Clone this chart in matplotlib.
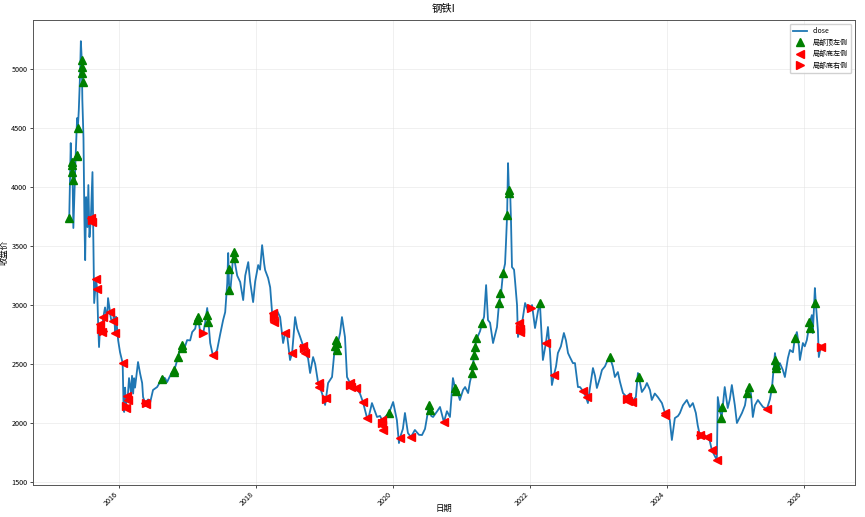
import matplotlib
matplotlib.use('Agg')
import matplotlib.pyplot as plt
import matplotlib.dates as mdates
import pandas as pd

plt.rcParams['font.family'] = ['Noto Sans CJK SC', 'DejaVu Sans']
plt.rcParams['axes.unicode_minus'] = False

# close price
dates = [
    '2015-04-10', '2015-04-18', '2015-04-20', '2015-04-26', '2015-04-28', '2015-05-02', '2015-05-07', '2015-05-14',
    '2015-05-22', '2015-05-26', '2015-05-31', '2015-06-07', '2015-06-11', '2015-06-16', '2015-06-19', '2015-06-25',
    '2015-06-30', '2015-07-04', '2015-07-09', '2015-07-16', '2015-07-21', '2015-07-27', '2015-08-03', '2015-08-12',
    '2015-08-21', '2015-08-31', '2015-09-06', '2015-09-11', '2015-09-16', '2015-09-22', '2015-10-01', '2015-10-09',
    '2015-10-18', '2015-10-29', '2015-11-03', '2015-11-14', '2015-11-19', '2015-12-01', '2015-12-05', '2015-12-11',
    '2015-12-16', '2015-12-27',
    '2016-01-06', '2016-01-20', '2016-01-25', '2016-01-28', '2016-02-02', '2016-02-07', '2016-02-10', '2016-02-15',
    '2016-02-23', '2016-03-05', '2016-03-10', '2016-03-16', '2016-03-21', '2016-03-26', '2016-04-11', '2016-04-22',
    '2016-05-03', '2016-05-08', '2016-05-19', '2016-06-04', '2016-06-14', '2016-06-30', '2016-07-22', '2016-08-07',
    '2016-08-17', '2016-09-02', '2016-09-13', '2016-09-29', '2016-10-10', '2016-10-20', '2016-10-31', '2016-11-11',
    '2016-11-21', '2016-12-02', '2016-12-18', '2016-12-29',
    '2017-01-14', '2017-01-25', '2017-02-10', '2017-02-21', '2017-03-03', '2017-03-09', '2017-03-25', '2017-04-04',
    '2017-04-15', '2017-04-20', '2017-05-01', '2017-05-17', '2017-05-28', '2017-06-07', '2017-06-23', '2017-07-09',
    '2017-07-20', '2017-07-31', '2017-08-05', '2017-08-10', '2017-08-16', '2017-08-26', '2017-09-01', '2017-09-11',
    '2017-09-22', '2017-10-08', '2017-10-24', '2017-11-04', '2017-11-20', '2017-11-30', '2017-12-16', '2017-12-27',
    '2018-01-12', '2018-01-22', '2018-02-02', '2018-02-13', '2018-02-18', '2018-03-06', '2018-03-17', '2018-03-27',
    '2018-04-02', '2018-04-12', '2018-04-23', '2018-05-09', '2018-05-25', '2018-06-05', '2018-06-15', '2018-07-01',
    '2018-07-12', '2018-07-28', '2018-08-08', '2018-08-24', '2018-09-09', '2018-09-19', '2018-10-05', '2018-10-16',
    '2018-11-01', '2018-11-12', '2018-11-28', '2018-12-03', '2018-12-19',
    '2019-01-04', '2019-01-09', '2019-01-20', '2019-02-10', '2019-02-26', '2019-03-09', '2019-03-25', '2019-04-04',
    '2019-04-20', '2019-05-01', '2019-05-17', '2019-06-02', '2019-06-18', '2019-07-09', '2019-07-25', '2019-08-16',
    '2019-08-26', '2019-09-11', '2019-09-27', '2019-10-08', '2019-10-24', '2019-11-04', '2019-11-20', '2019-12-11',
    '2020-01-02', '2020-01-22', '2020-02-02', '2020-02-07', '2020-02-23', '2020-03-05', '2020-03-21', '2020-04-06',
    '2020-04-27', '2020-05-19', '2020-06-04', '2020-06-20', '2020-07-01', '2020-07-12', '2020-07-23', '2020-08-02',
    '2020-08-24', '2020-09-08', '2020-09-29', '2020-10-15', '2020-10-31', '2020-11-16', '2020-11-27', '2020-12-13',
    '2020-12-23',
    '2021-01-09', '2021-01-20', '2021-02-05', '2021-02-15', '2021-02-26', '2021-03-14', '2021-03-25', '2021-04-10',
    '2021-04-20', '2021-05-01', '2021-05-12', '2021-05-22', '2021-06-02', '2021-06-18', '2021-06-29', '2021-07-09',
    '2021-07-20', '2021-07-31', '2021-08-10', '2021-08-21', '2021-08-26', '2021-09-01', '2021-09-06', '2021-09-11',
    '2021-09-17', '2021-09-22', '2021-09-27', '2021-10-08', '2021-10-13', '2021-10-24', '2021-10-29', '2021-11-09',
    '2021-11-20', '2021-12-06', '2021-12-22',
    '2022-01-04', '2022-01-12', '2022-01-28', '2022-02-13', '2022-02-23', '2022-03-11', '2022-03-27', '2022-04-07',
    '2022-04-18', '2022-04-28', '2022-05-09', '2022-05-20', '2022-05-30', '2022-06-15', '2022-07-01', '2022-07-12',
    '2022-07-23', '2022-08-02', '2022-08-18', '2022-08-29', '2022-09-14', '2022-09-25', '2022-10-11', '2022-10-27',
    '2022-11-06', '2022-11-17', '2022-12-03', '2022-12-14', '2022-12-24',
    '2023-01-09', '2023-01-20', '2023-02-05', '2023-02-15', '2023-03-03', '2023-03-19', '2023-03-30', '2023-04-15',
    '2023-04-26', '2023-05-12', '2023-06-02', '2023-06-18', '2023-06-29', '2023-07-20', '2023-07-31', '2023-08-05',
    '2023-08-21', '2023-09-06', '2023-09-17', '2023-10-03', '2023-10-13', '2023-10-29', '2023-11-14', '2023-12-06',
    '2023-12-22',
    '2024-01-06', '2024-01-17', '2024-01-28', '2024-02-13', '2024-03-01', '2024-03-11', '2024-03-27', '2024-04-17',
    '2024-05-03', '2024-05-19', '2024-06-04', '2024-06-14', '2024-06-25', '2024-07-16', '2024-08-01', '2024-08-17',
    '2024-08-28', '2024-09-13', '2024-09-24', '2024-09-29', '2024-10-10', '2024-10-20', '2024-11-05', '2024-11-21',
    '2024-12-02', '2024-12-13', '2024-12-29',
    '2025-01-09', '2025-01-25', '2025-02-05', '2025-02-21', '2025-03-03', '2025-03-14', '2025-03-25', '2025-04-04',
    '2025-04-15', '2025-05-01', '2025-05-12', '2025-05-28', '2025-06-18', '2025-07-04', '2025-07-15', '2025-07-31',
    '2025-08-05', '2025-08-16', '2025-08-26', '2025-09-11', '2025-09-22', '2025-10-08', '2025-10-19', '2025-11-04',
    '2025-11-14', '2025-11-25', '2025-12-06', '2025-12-11', '2025-12-27',
    '2026-01-06', '2026-01-17', '2026-02-02', '2026-02-13', '2026-02-18', '2026-03-01', '2026-03-06', '2026-03-17',
    '2026-03-22', '2026-04-01', '2026-04-11',
]
close = [
    3737, 4373, 4250, 4203, 4060, 3653, 3915, 4254,
    4585, 4500, 4653, 4966, 5237, 5076, 4737, 4415,
    3720, 3381, 3915, 3661, 4017, 3576, 3720, 4127,
    3017, 3220, 3136, 2850, 2644, 2839, 2771, 2898,
    2980, 2880, 3059, 2940, 2880, 2864, 2950, 2763,
    2900, 2700,
    2600, 2508, 2127, 2093, 2300, 2127, 2229, 2195,
    2381, 2250, 2400, 2250, 2380, 2300, 2517, 2420,
    2339, 2220, 2169, 2200, 2169, 2280, 2305, 2350,
    2390, 2380, 2347, 2400, 2432, 2440, 2500, 2559,
    2620, 2661, 2650, 2703,
    2700, 2771, 2800, 2898, 2830, 2771, 2763, 2850,
    2975, 2890, 2678, 2559, 2590, 2619, 2750, 2873,
    2940, 3186, 3441, 3150, 3110, 3300, 3449, 3350,
    3250, 3195, 3042, 3250, 3364, 3200, 3025, 3200,
    3339, 3300, 3508, 3350, 3297, 3229, 3150, 2940,
    2932, 2900, 2950, 2898, 2678, 2763, 2750, 2534,
    2593, 2898, 2800, 2729, 2653, 2593, 2550, 2424,
    2559, 2500, 2339, 2322, 2250,
    2153, 2212, 2339, 2390, 2661, 2644, 2763, 2898,
    2729, 2390, 2339, 2330, 2297, 2250, 2178, 2042,
    2060, 2169, 2100, 2051, 2060, 2025, 2050, 2085,
    2178, 2025, 1830, 1873, 1950, 2085, 1915, 1881,
    1941, 1900, 1898, 1950, 2051, 2153, 2060, 2051,
    2100, 2136, 2008, 2100, 2051, 2381, 2297, 2250,
    2195,
    2280, 2305, 2254, 2350, 2424, 2650, 2720, 2780,
    2847, 2900, 3169, 2873, 2850, 2678, 2750, 2814,
    3017, 3102, 3271, 3350, 3525, 3763, 4203, 3950,
    3975, 3700, 3322, 3300, 3212, 3000, 2729, 2814,
    2850, 3017, 2950,
    2975, 3000, 2805, 2950, 3017, 2534, 2678, 2814,
    2600, 2322, 2407, 2480, 2593, 2650, 2763, 2700,
    2593, 2559, 2508, 2508, 2305, 2305, 2271, 2220,
    2169, 2300, 2466, 2400, 2297,
    2380, 2449, 2480, 2517, 2559, 2480, 2390, 2432,
    2350, 2254, 2220, 2250, 2178, 2220, 2424, 2390,
    2263, 2300, 2339, 2280, 2195, 2250, 2220, 2169,
    2085,
    2070, 2025, 1856, 2042, 2060, 2085, 2150, 2195,
    2136, 2169, 2085, 1980, 1898, 1900, 1881, 1850,
    1771, 1720, 1686, 2220, 2100, 2051, 2305, 2127,
    2200, 2322, 2150,
    2000, 2050, 2085, 2150, 2254, 2305, 2250, 2051,
    2150, 2195, 2170, 2136, 2119, 2200, 2297, 2593,
    2534, 2450, 2508, 2450, 2390, 2550, 2619, 2600,
    2720, 2771, 2650, 2534, 2678,
    2650, 2703, 2856, 2915, 2763, 3144, 3017, 2788,
    2559, 2644, 2650,
]

# 局部顶左侧
top_dates = [
    '2015-04-10', '2015-04-24', '2015-04-25', '2015-04-26', '2015-04-28', '2015-05-20', '2015-05-22', '2015-05-27',
    '2015-06-15', '2015-06-16', '2015-06-17', '2015-06-22', '2016-08-17', '2016-10-18', '2016-10-22', '2016-11-11',
    '2016-11-29', '2016-12-02', '2017-02-21', '2017-02-23', '2017-04-15', '2017-04-17', '2017-08-08', '2017-08-10',
    '2017-09-04', '2017-09-06', '2019-02-28', '2019-03-04', '2019-03-08', '2019-03-11', '2019-12-11', '2020-07-12',
    '2020-07-15', '2020-11-27', '2020-11-30', '2021-02-26', '2021-03-03', '2021-03-08', '2021-03-14', '2021-03-19',
    '2021-04-20', '2021-07-20', '2021-07-26', '2021-08-10', '2021-09-01', '2021-09-10', '2021-09-12', '2022-02-23',
    '2023-03-03', '2023-08-05', '2024-10-18', '2024-10-22', '2025-03-03', '2025-03-12', '2025-07-15', '2025-07-31',
    '2025-08-03', '2025-08-06', '2025-11-14', '2026-01-31', '2026-02-03', '2026-03-04',
]
top_vals = [
    3737, 4212, 4186, 4127, 4059, 4271, 4260, 4500,
    5076, 5017, 4966, 4890, 2373, 2432, 2450, 2559,
    2640, 2661, 2873, 2900, 2915, 2856, 3127, 3305,
    3449, 3398, 2650, 2700, 2680, 2620, 2085, 2153,
    2110, 2297, 2268, 2424, 2491, 2576, 2644, 2720,
    2847, 3017, 3102, 3271, 3763, 3975, 3950, 3017,
    2559, 2390, 2042, 2136, 2254, 2305, 2297, 2534,
    2491, 2466, 2720, 2856, 2805, 3017,
]

# 局部底左侧
bl_dates = [
    '2015-08-06', '2015-08-09', '2015-09-02', '2015-09-07', '2015-09-22', '2015-10-01', '2015-10-09', '2015-11-14',
    '2015-12-01', '2015-12-11', '2016-01-20', '2016-02-07', '2016-02-10', '2016-02-15', '2016-05-19', '2016-05-22',
    '2017-05-17', '2018-04-02', '2018-04-06', '2018-06-05', '2018-07-12', '2018-09-09', '2018-09-19', '2018-11-30',
    '2018-12-05', '2019-01-09', '2019-05-17', '2019-05-20', '2019-06-18', '2019-07-25', '2019-08-16', '2019-11-04',
    '2019-11-06', '2019-11-08', '2020-02-07', '2020-04-06', '2020-09-29', '2021-11-04', '2021-11-07', '2021-11-09',
    '2022-03-27', '2022-05-09', '2022-10-11', '2022-10-30', '2023-06-02', '2023-06-08', '2023-06-29', '2023-12-22',
    '2023-12-25', '2024-06-25', '2024-08-01', '2024-08-28', '2024-09-24', '2025-06-18', '2026-04-01',
]
bl_vals = [
    3737, 3703, 3220, 3136, 2839, 2771, 2898, 2940,
    2864, 2763, 2508, 2127, 2229, 2195, 2169, 2160,
    2580, 2932, 2856, 2763, 2593, 2653, 2593, 2339,
    2305, 2212, 2339, 2305, 2297, 2178, 2042, 2025,
    1983, 1941, 1873, 1881, 2008, 2850, 2800, 2770,
    2678, 2407, 2271, 2220, 2220, 2190, 2178, 2085,
    2070, 1898, 1881, 1771, 1686, 2119, 2644,
]

# 局部底右侧
br_dates = [
    '2015-08-10', '2015-09-27', '2015-10-05', '2016-02-05', '2016-05-25', '2017-03-25', '2018-04-04', '2018-09-12',
    '2019-01-11', '2019-05-19', '2019-11-06', '2021-11-08', '2022-01-04', '2023-06-05', '2024-06-30', '2026-04-03',
]
br_vals = [
    3720, 2800, 2780, 2140, 2170, 2763, 2900, 2640,
    2200, 2320, 2000, 2800, 2975, 2200, 1898, 2644,
]

fig, ax = plt.subplots(figsize=(8.65, 5.17), dpi=100)
fig.subplots_adjust(left=0.038, right=0.988, top=0.961, bottom=0.062)

ax.plot(pd.to_datetime(dates), close, color='#1f77b4', lw=1.3, label='close')
ax.plot(pd.to_datetime(top_dates), top_vals, '^', color='green', ms=5.5, ls='none', label='局部顶左侧')
ax.plot(pd.to_datetime(bl_dates), bl_vals, '<', color='red', ms=5.5, ls='none', label='局部底左侧')
ax.plot(pd.to_datetime(br_dates), br_vals, '>', color='red', ms=5.5, ls='none', label='局部底右侧')

ax.set_xlim(pd.Timestamp('2014-09-28'), pd.Timestamp('2026-09-29'))
ax.set_ylim(1475, 5415)
ax.xaxis.set_major_locator(mdates.YearLocator(2))
ax.xaxis.set_major_formatter(mdates.DateFormatter('%Y'))
plt.setp(ax.get_xticklabels(), rotation=45, ha='right')
ax.tick_params(labelsize=5.2, length=2.5, width=0.5, pad=1.5)

ax.set_title('钢铁I', fontsize=7.5, pad=6)
ax.set_xlabel('日期', fontsize=6)
ax.xaxis.set_label_coords(0.5, -0.04)
ax.set_ylabel('收盘价', fontsize=6, labelpad=2)
ax.grid(True, color='#dddddd', lw=0.5, alpha=0.6)
for s in ax.spines.values():
    s.set_color('#555555')
    s.set_linewidth(0.7)

ax.legend(loc='upper right', fontsize=5, framealpha=0.9, borderpad=0.5, handlelength=2)
fig.savefig('out.png', dpi=100)
